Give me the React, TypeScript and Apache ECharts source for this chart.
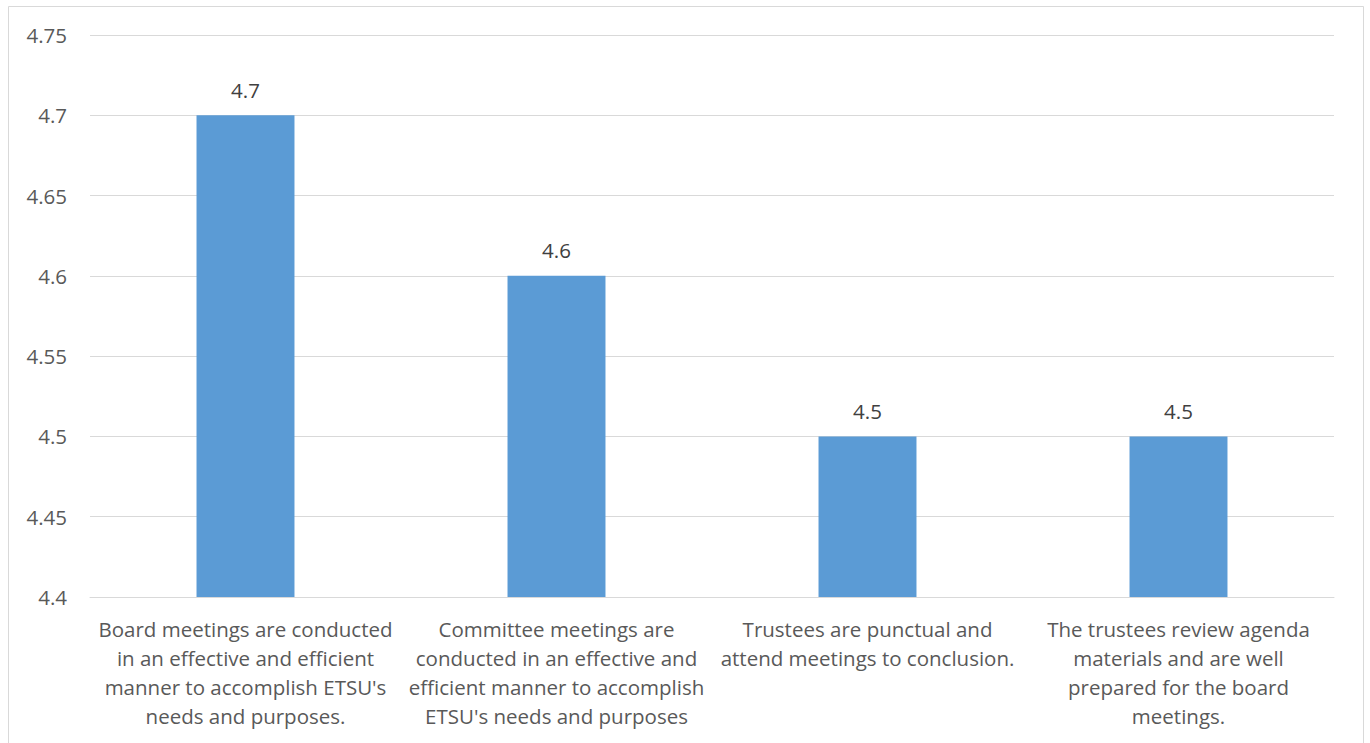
import React, { useEffect, useRef } from "react";
import * as echarts from "echarts";

const categories = [
  "Board meetings are conducted\nin an effective and efficient\nmanner to accomplish ETSU's\nneeds and purposes.",
  "Committee meetings are\nconducted in an effective and\nefficient manner to accomplish\nETSU's needs and purposes",
  "Trustees are punctual and\nattend meetings to conclusion.",
  "The trustees review agenda\nmaterials and are well\nprepared for the board\nmeetings.",
];
const values = [4.7, 4.6, 4.5, 4.5];
const yMin = 4.4;
const yMax = 4.75;
const yStep = 0.05;

export default function App() {
  const ref = useRef<HTMLDivElement>(null);
  useEffect(() => {
    if (!ref.current) return;
    const chart = echarts.init(ref.current, undefined, { renderer: "svg" });
    const font = "'Open Sans', Lato, sans-serif";
    chart.setOption({
      animation: false,
      backgroundColor: "#ffffff",
      graphic: [
        {
          type: "rect",
          shape: { x: 8.5, y: 6.5, width: 1355, height: 760 },
          style: { fill: "none", stroke: "#D9D9D9", lineWidth: 1 },
          silent: true,
        },
      ],
      grid: { left: 90, right: 36, top: 35, bottom: 146, containLabel: false },
      xAxis: {
        type: "category",
        data: categories,
        axisLine: { show: true, lineStyle: { color: "#D9D9D9", width: 1 } },
        axisTick: { show: false },
        axisLabel: {
          color: "#595959",
          fontSize: 20.5,
          fontFamily: font,
          lineHeight: 29,
          margin: 17,
          interval: 0,
          align: "center",
        },
      },
      yAxis: {
        type: "value",
        min: yMin,
        max: yMax,
        interval: yStep,
        axisLine: { show: false },
        axisTick: { show: false },
        splitLine: { lineStyle: { color: "#D9D9D9", width: 1 } },
        axisLabel: {
          color: "#595959",
          fontSize: 20.5,
          fontFamily: font,
          margin: 23,
          formatter: (v: number) => String(parseFloat(v.toFixed(2))),
        },
      },
      series: [
        {
          type: "bar",
          data: values,
          barWidth: "31.5%",
          itemStyle: { color: "#5B9BD5" },
          label: {
            show: true,
            position: "top",
            distance: 15,
            color: "#404040",
            fontSize: 20.5,
            fontFamily: font,
            formatter: (p: any) => String(p.value),
          },
        },
      ],
    });
    return () => chart.dispose();
  }, []);
  return (
    <div
      ref={ref}
      style={{ position: "absolute", left: 0, top: 0, width: 1370, height: 743 }}
    />
  );
}
